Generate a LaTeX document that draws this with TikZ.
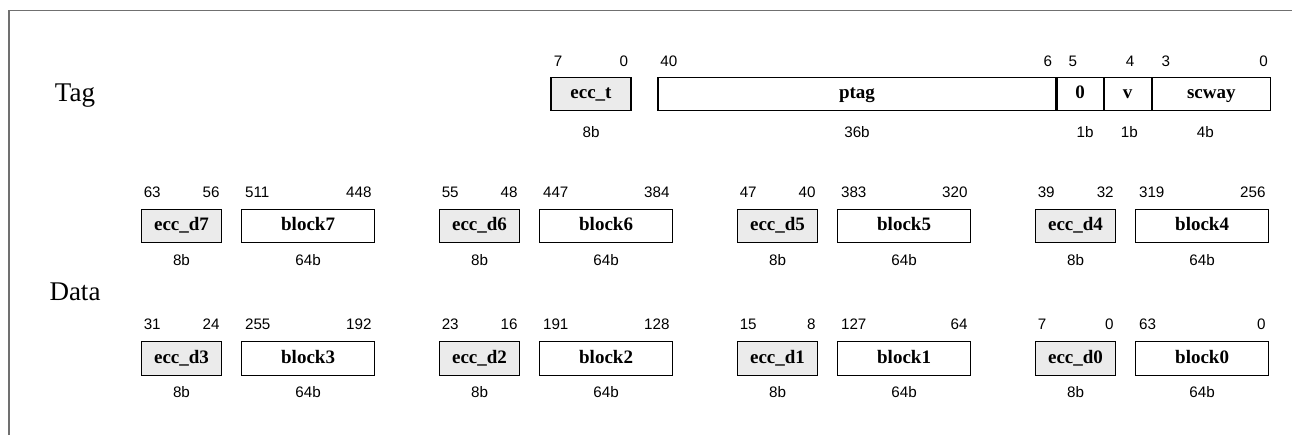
\documentclass[tikz,border=0pt]{standalone}
\usepackage{fontspec}
\setmainfont{Liberation Serif}
\setsansfont{Liberation Sans}
\usetikzlibrary{positioning}
\definecolor{CacheEccColor}{RGB}{235,235,235}
\definecolor{CacheFrameColor}{RGB}{112,112,112}

\begin{document}
\begin{tikzpicture}[x=0.5pt,y=-0.5pt,
  fld/.style n args={2}{draw,line width=0.55pt,fill=#1,minimum width=#2*0.5pt,minimum height=16.7pt,inner sep=0pt,text height=6.6pt,text depth=2.1pt,font=\fontsize{9.5}{10}\selectfont\bfseries},
  bitnum/.style={inner sep=0pt,font=\sffamily\fontsize{7.6}{8}\selectfont},
  rowname/.style={inner sep=0pt,anchor=base,font=\fontsize{13.5}{14}\selectfont}]
    \useasboundingbox (0,0) rectangle (1292,435);
    \draw[CacheFrameColor,line width=0.8pt] (9,435) -- (9,10.5) -- (1292,10.5);
    \node[rowname] (tagname) at (75,101) {Tag};
    \node[rowname] (dataname) at (75,300) {Data};
    % tag entry
    \node[fld={CacheEccColor}{80}] (ecct) at (591,94) {ecc\_t};
    \node[fld={white}{398}] (ptag) at (857,94) {ptag};
    \node[fld={white}{46},right=0pt of ptag] (zero) {0};
    \node[fld={white}{47},right=0pt of zero] (valid) {v};
    \node[fld={white}{118},right=0pt of valid] (scway) {scway};
    \node[bitnum,anchor=west] at ([xshift=1.5pt,yshift=7.8pt]ecct.north west) {7};
    \node[bitnum,anchor=east] at ([xshift=-1.5pt,yshift=7.8pt]ecct.north east) {0};
    \node[bitnum,anchor=west] at ([xshift=1.3pt,yshift=7.8pt]ptag.north west) {40};
    \node[bitnum,anchor=east] at ([xshift=-2pt,yshift=7.8pt]ptag.north east) {6};
    \node[bitnum] at ([xshift=-3.6pt,yshift=7.8pt]zero.north) {5};
    \node[bitnum] at ([xshift=1.2pt,yshift=7.8pt]valid.north) {4};
    \node[bitnum,anchor=west] at ([xshift=4.7pt,yshift=7.8pt]scway.north west) {3};
    \node[bitnum,anchor=east] at ([xshift=-1.3pt,yshift=7.8pt]scway.north east) {0};
    \node[bitnum] at ([yshift=-10.3pt]ecct.south) {8b};
    \node[bitnum] at ([yshift=-10.3pt]ptag.south) {36b};
    \node[bitnum] at ([xshift=2.5pt,yshift=-10.3pt]zero.south) {1b};
    \node[bitnum] at ([xshift=0.8pt,yshift=-10.3pt]valid.south) {1b};
    \node[bitnum] at ([xshift=-3pt,yshift=-10.3pt]scway.south) {4b};
    % data entry
    \foreach \i/\gx/\gy/\eh/\el/\bh/\bl in %
    {7/181.5/226/63/56/511/448,6/479.5/226/55/48/447/384,5/777.5/226/47/40/383/320,4/1075.5/226/39/32/319/256,
     3/181.5/358.5/31/24/255/192,2/479.5/358.5/23/16/191/128,1/777.5/358.5/15/8/127/64,0/1075.5/358.5/7/0/63/0} {
       \node[fld={CacheEccColor}{80}] (ecc\i) at (\gx,\gy) {ecc\_d\i};
       \node[fld={white}{133},right=9.5pt of ecc\i] (blk\i) {block\i};
       \node[bitnum,anchor=west] at ([xshift=1.2pt,yshift=8.3pt]ecc\i.north west) {\eh};
       \node[bitnum,anchor=east] at ([xshift=-1pt,yshift=8.3pt]ecc\i.north east) {\el};
       \node[bitnum,anchor=west] at ([xshift=1.8pt,yshift=8.3pt]blk\i.north west) {\bh};
       \node[bitnum,anchor=east] at ([xshift=-1.6pt,yshift=8.3pt]blk\i.north east) {\bl};
       \node[bitnum] at ([yshift=-8.4pt]ecc\i.south) {8b};
       \node[bitnum] at ([yshift=-8.4pt]blk\i.south) {64b};
    }
\end{tikzpicture}
\end{document}
